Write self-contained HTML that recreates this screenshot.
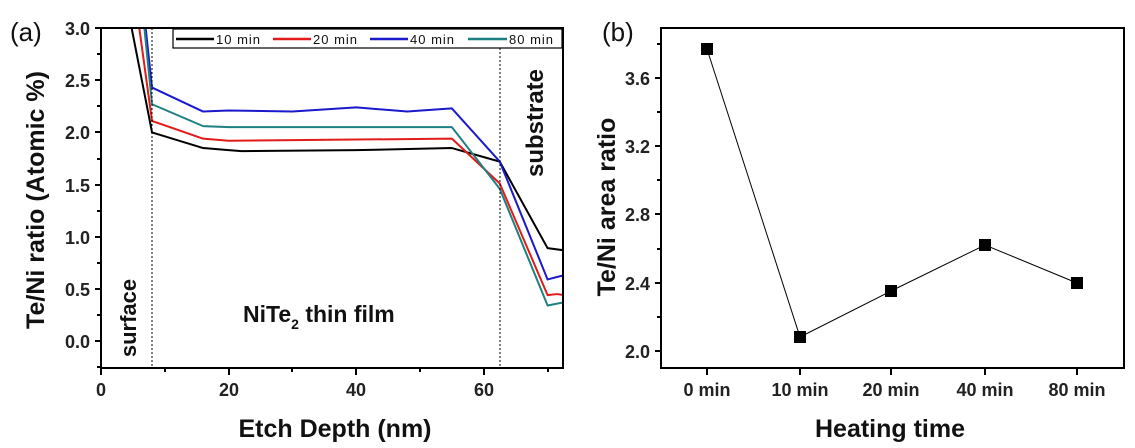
<!DOCTYPE html>
<html><head><meta charset="utf-8"><style>
html,body{margin:0;padding:0;background:#fff;}
svg{display:block;font-family:"Liberation Sans",Arial,sans-serif;}
.tk{font-size:18px;font-weight:bold;fill:#222;}
.lab{font-size:25px;font-weight:bold;fill:#111;}
.lg{font-size:13px;fill:#111;letter-spacing:1px;}
</style></head><body>
<svg width="1135" height="448" viewBox="0 0 1135 448">
<defs><clipPath id="ca"><rect x="101" y="28" width="462" height="340"/></clipPath></defs>
<!-- Panel a -->
<text x="10" y="41" font-size="26" fill="#111">(a)</text>
<g clip-path="url(#ca)" fill="none" stroke-width="2" stroke-linejoin="round">
<g transform="translate(101,341) scale(6.38,-104.3)">
<polyline vector-effect="non-scaling-stroke" stroke="#000" points="4,3.6 4.8,3.0 8,2.0 16,1.85 20,1.83 22,1.82 40,1.83 55,1.85 62.5,1.72 70,0.89 72.5,0.87"/>
<polyline vector-effect="non-scaling-stroke" stroke="#e31a1a" points="5.2,3.6 6,3.0 8,2.11 16,1.94 20,1.92 55,1.94 62.5,1.51 70,0.44 71.5,0.45 72.5,0.44"/>
<polyline vector-effect="non-scaling-stroke" stroke="#1a1acc" points="6.4,3.6 7,3.0 8,2.43 16,2.2 20,2.21 30,2.2 40,2.24 48,2.2 55,2.23 62.5,1.72 70,0.59 72.5,0.63"/>
<polyline vector-effect="non-scaling-stroke" stroke="#1e8080" points="6.2,3.6 6.8,3.0 8,2.27 16,2.06 20,2.05 55,2.05 62.5,1.46 70,0.34 72.5,0.37"/>
</g></g>
<line x1="152" y1="28" x2="152" y2="368" stroke="#000" stroke-width="1" stroke-dasharray="2,2"/>
<line x1="500" y1="28" x2="500" y2="368" stroke="#000" stroke-width="1" stroke-dasharray="2,2"/>
<rect x="101" y="28" width="462" height="340" fill="none" stroke="#000" stroke-width="2"/>
<!-- legend -->
<rect x="173" y="29" width="389" height="19" fill="#fff" stroke="#000" stroke-width="1.2"/>
<line x1="176" y1="39" x2="214" y2="39" stroke="#000" stroke-width="2.5"/><text x="216" y="44" class="lg">10 min</text>
<line x1="273" y1="39" x2="311" y2="39" stroke="#e31a1a" stroke-width="2.5"/><text x="313" y="44" class="lg">20 min</text>
<line x1="370" y1="39" x2="408" y2="39" stroke="#1a1acc" stroke-width="2.5"/><text x="410" y="44" class="lg">40 min</text>
<line x1="468" y1="39" x2="507" y2="39" stroke="#1e8080" stroke-width="2.5"/><text x="509" y="44" class="lg">80 min</text>
<!-- ticks a -->
<g stroke="#000" stroke-width="2">
<line x1="95" y1="28" x2="101" y2="28"/><line x1="95" y1="80" x2="101" y2="80"/><line x1="95" y1="132" x2="101" y2="132"/><line x1="95" y1="185" x2="101" y2="185"/><line x1="95" y1="237" x2="101" y2="237"/><line x1="95" y1="289" x2="101" y2="289"/><line x1="95" y1="341" x2="101" y2="341"/>
<line x1="97" y1="54" x2="101" y2="54"/><line x1="97" y1="106" x2="101" y2="106"/><line x1="97" y1="159" x2="101" y2="159"/><line x1="97" y1="211" x2="101" y2="211"/><line x1="97" y1="263" x2="101" y2="263"/><line x1="97" y1="315" x2="101" y2="315"/><line x1="97" y1="367" x2="101" y2="367"/>
<line x1="101" y1="368" x2="101" y2="375"/><line x1="229" y1="368" x2="229" y2="375"/><line x1="356" y1="368" x2="356" y2="375"/><line x1="484" y1="368" x2="484" y2="375"/>
<line x1="165" y1="368" x2="165" y2="372"/><line x1="292" y1="368" x2="292" y2="372"/><line x1="420" y1="368" x2="420" y2="372"/><line x1="548" y1="368" x2="548" y2="372"/>
</g>
<g class="tk" text-anchor="end">
<text x="90" y="35">3.0</text><text x="90" y="87">2.5</text><text x="90" y="139">2.0</text><text x="90" y="192">1.5</text><text x="90" y="244">1.0</text><text x="90" y="296">0.5</text><text x="90" y="348">0.0</text>
</g>
<g class="tk" text-anchor="middle">
<text x="101" y="396">0</text><text x="229" y="396">20</text><text x="356" y="396">40</text><text x="484" y="396">60</text>
</g>
<text class="lab" text-anchor="middle" transform="translate(44,200) rotate(-90)">Te/Ni ratio (Atomic %)</text>
<text class="lab" text-anchor="middle" x="335" y="437">Etch Depth (nm)</text>
<text class="lab" text-anchor="middle" transform="translate(136,318) rotate(-90)" style="font-size:22px">surface</text>
<text class="lab" text-anchor="middle" transform="translate(543,123) rotate(-90)" style="font-size:24px">substrate</text>
<text class="lab" x="243" y="322" style="font-size:23px">NiTe<tspan font-size="14" dy="7">2</tspan><tspan dy="-7"> thin film</tspan></text>

<!-- Panel b -->
<text x="602" y="41" font-size="26" fill="#111">(b)</text>
<rect x="661" y="28" width="463" height="340" fill="none" stroke="#000" stroke-width="2"/>
<g stroke="#000" stroke-width="2">
<line x1="655" y1="351" x2="661" y2="351"/><line x1="655" y1="283" x2="661" y2="283"/><line x1="655" y1="214" x2="661" y2="214"/><line x1="655" y1="146" x2="661" y2="146"/><line x1="655" y1="78" x2="661" y2="78"/>
<line x1="657" y1="317" x2="661" y2="317"/><line x1="657" y1="249" x2="661" y2="249"/><line x1="657" y1="180" x2="661" y2="180"/><line x1="657" y1="112" x2="661" y2="112"/><line x1="657" y1="44" x2="661" y2="44"/>
<line x1="707" y1="368" x2="707" y2="375"/><line x1="800" y1="368" x2="800" y2="375"/><line x1="891" y1="368" x2="891" y2="375"/><line x1="985" y1="368" x2="985" y2="375"/><line x1="1077" y1="368" x2="1077" y2="375"/>
</g>
<g class="tk" text-anchor="end">
<text x="650" y="358">2.0</text><text x="650" y="290">2.4</text><text x="650" y="221">2.8</text><text x="650" y="153">3.2</text><text x="650" y="85">3.6</text>
</g>
<g class="tk" text-anchor="middle">
<text x="707" y="396">0 min</text><text x="800" y="396">10 min</text><text x="891" y="396">20 min</text><text x="985" y="396">40 min</text><text x="1077" y="396">80 min</text>
</g>
<polyline fill="none" stroke="#000" stroke-width="1" points="707,49 800,337 891,291 985,245 1077,283"/>
<g fill="#000">
<rect x="701" y="43" width="12" height="12"/><rect x="794" y="331" width="12" height="12"/><rect x="885" y="285" width="12" height="12"/><rect x="979" y="239" width="12" height="12"/><rect x="1071" y="277" width="12" height="12"/>
</g>
<text class="lab" text-anchor="middle" transform="translate(615,207) rotate(-90)">Te/Ni area ratio</text>
<text class="lab" text-anchor="middle" x="890" y="437">Heating time</text>
</svg>
</body></html>
